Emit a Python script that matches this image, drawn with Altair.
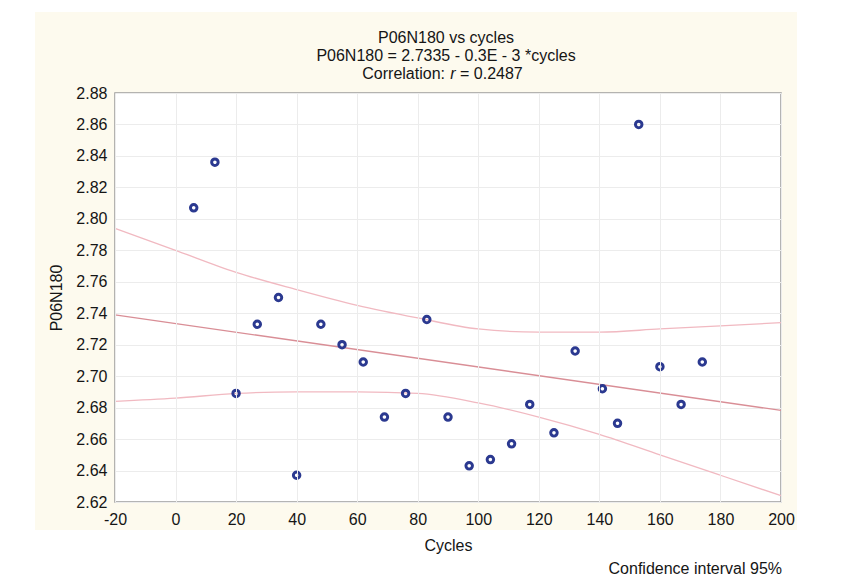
import altair as alt
import pandas as pd

# ---- data ----
cycles = [6, 13, 20, 27, 34, 40, 48, 55, 62, 69, 76, 83, 90, 97, 104, 111, 117, 125, 132, 141, 146, 153, 160, 167, 174]
p06n180 = [2.807, 2.836, 2.689, 2.733, 2.750, 2.637, 2.733, 2.720, 2.709, 2.674, 2.689, 2.736, 2.674, 2.643,
           2.647, 2.657, 2.682, 2.664, 2.716, 2.692, 2.670, 2.860, 2.706, 2.682, 2.709]

band_cycles = [-20, 0, 20, 40, 60, 80, 100, 120, 140, 160, 180, 200]
band_upper = [2.794, 2.780, 2.766, 2.755, 2.745, 2.737, 2.730, 2.728, 2.728, 2.730, 2.732, 2.734]
band_lower = [2.684, 2.686, 2.689, 2.690, 2.690, 2.689, 2.683, 2.674, 2.663, 2.650, 2.637, 2.624]

x_ticks = [-20, 0, 20, 40, 60, 80, 100, 120, 140, 160, 180, 200]
y_ticks = [2.62, 2.64, 2.66, 2.68, 2.70, 2.72, 2.74, 2.76, 2.78, 2.80, 2.82, 2.84, 2.86, 2.88]

title_line1 = "P06N180 vs cycles"
title_line2 = "P06N180 = 2.7335 - 0.3E - 3 *cycles"
title_line3 = ["Correlation:", "r", "= 0.2487"]
footnote = "Confidence interval 95%"

FONT = "Liberation Sans, Arial, sans-serif"
TXT = "#151515"
CREAM = "#fdfaee"

pts = pd.DataFrame({"cycles": cycles, "P06N180": p06n180})
band = pd.DataFrame({"cycles": band_cycles, "upper": band_upper, "lower": band_lower})
one = pd.DataFrame({"a": [0]})

xs = alt.Scale(domain=[-20, 200], nice=False, zero=False)
ys = alt.Scale(domain=[2.62, 2.88], nice=False, zero=False)

xax = alt.Axis(values=x_ticks, title="Cycles", grid=True, gridColor="#ececec", domain=False, ticks=False,
               labelPadding=9, titlePadding=10, labelFontSize=16, titleFontSize=16, labelFont=FONT,
               titleFont=FONT, labelColor=TXT, titleColor=TXT, titleFontWeight="normal",
               labelOverlap=False, labelFlush=False, labelExpr="'' + datum.value", zindex=1)
yax = alt.Axis(values=y_ticks, title="P06N180", grid=True, gridColor="#ececec", domain=False, ticks=False,
               labelPadding=8, titlePadding=11, labelFontSize=16, titleFontSize=16, labelFont=FONT,
               titleFont=FONT, labelColor=TXT, titleColor=TXT, titleFontWeight="normal",
               labelOverlap=False, labelFlush=False, format=".2f")

X = lambda f: alt.X(f, type="quantitative", scale=xs, axis=xax)
Y = lambda f: alt.Y(f, type="quantitative", scale=ys, axis=yax)

# white page margins around the cream panel
def strip(x1, x2, y1, y2):
    return alt.Chart(one).mark_rect(color="white").encode(
        x=alt.value(x1), x2=alt.value(x2), y=alt.value(y1), y2=alt.value(y2))

strips = [
    strip(-107, -80, -85, 483),
    strip(-107, 727, -85, -81),
    strip(682, 727, -85, 483),
    strip(-107, 727, 437, 483),
]

def label(text, x, y, align="center", style="normal", size=16):
    return alt.Chart(one).mark_text(align=align, baseline="middle", font=FONT, fontSize=size,
                                    fontStyle=style, color=TXT).encode(
        x=alt.value(x), y=alt.value(y), text=alt.value(text))

titles = [
    label(title_line1, 331, -55),
    label(title_line2, 331, -37),
    label(title_line3[0], 330, -19, align="right"),
    label(title_line3[1], 338, -19, style="italic"),
    label(title_line3[2], 345, -19, align="left"),
]

upper = alt.Chart(band).mark_line(color="#f1b9c1", strokeWidth=1.3, interpolate="monotone").encode(
    x=X("cycles"), y=Y("upper"))
lower = alt.Chart(band).mark_line(color="#f1b9c1", strokeWidth=1.3, interpolate="monotone").encode(
    x=X("cycles"), y=Y("lower"))
reg = alt.Chart(pts).transform_regression("cycles", "P06N180", extent=[-20, 200]).mark_line(
    color="#d98e96", strokeWidth=1.4).encode(x=X("cycles"), y=Y("P06N180"))
points = alt.Chart(pts).mark_point(shape="circle", filled=False, color="#2b3990", strokeWidth=3,
                                   size=42, opacity=1).encode(x=X("cycles"), y=Y("P06N180"))
foot = alt.Chart(one).mark_text(align="right", baseline="alphabetic", font=FONT, fontSize=16,
                                color=TXT).encode(x=alt.value(667), y=alt.value(481),
                                                  text=alt.value(footnote))

chart = alt.layer(*strips, upper, lower, reg, points, foot, *titles).properties(
    width=666, height=409,
    autosize=alt.AutoSizeParams(type="none"),
    padding={"left": 107, "top": 85, "right": 61, "bottom": 74},
    background=CREAM,
).configure_view(stroke="#9c9c9c", strokeWidth=1.5, fill="white")

chart.save("out.html", embed_options={"renderer": "svg", "actions": False})
